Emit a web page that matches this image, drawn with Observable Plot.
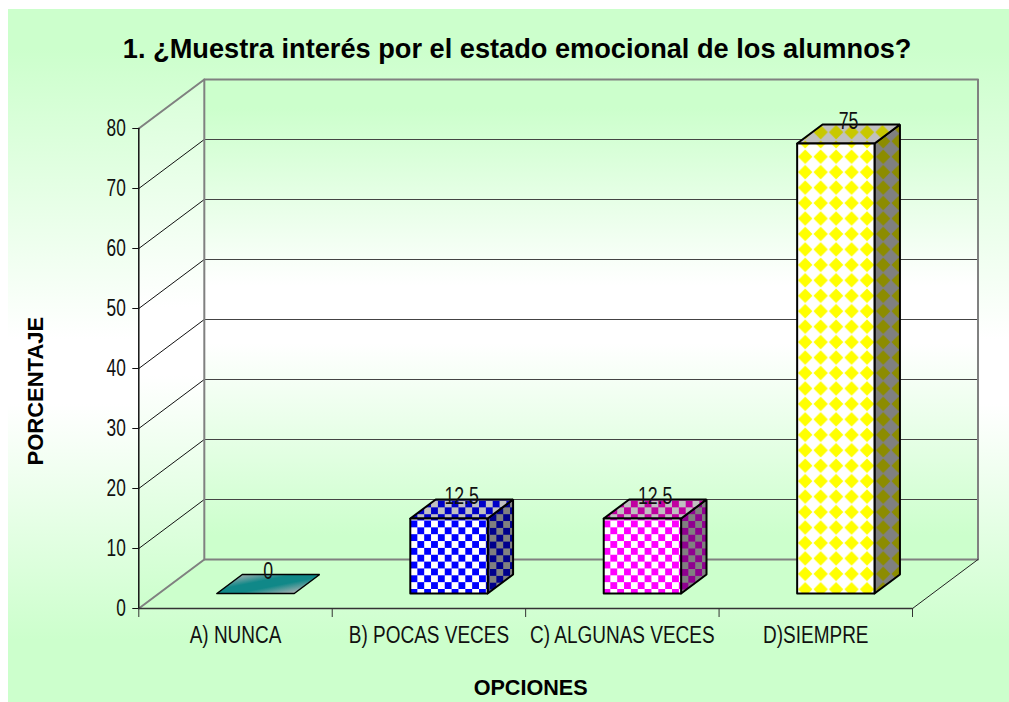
<!DOCTYPE html>
<html><head><meta charset="utf-8">
<script src="https://cdn.jsdelivr.net/npm/d3@7"></script>
<script src="https://cdn.jsdelivr.net/npm/@observablehq/plot@0.6"></script>
<style>
html,body{margin:0;padding:0;background:#fff;overflow:hidden}
#bg{position:absolute;left:8px;top:9px;width:1001px;height:693px;
background:linear-gradient(180deg,#ccffcc 0,#ccffcc 40px,#ffffff 330px,#ffffff 395px,#ccffcc 631px)}
#chart{position:absolute;left:0;top:0}
</style></head><body>
<div id="bg"></div><div id="chart"></div>
<script>
const title = "1. ¿Muestra interés por el estado emocional de los alumnos?";
const xTitle = "OPCIONES";
const yTitle = "PORCENTAJE";
const categories = ["A) NUNCA","B) POCAS VECES","C) ALGUNAS VECES","D)SIEMPRE"];
const values = [0,12.5,12.5,75];
const yTicks = [0,10,20,30,40,50,60,70,80];
const palettes = ["teal","blue","magenta","yellow"];

// Oblique 3D projection expressed in data units
const depthX = 0.3387, depthY = 8.167;
const barW = 0.40, z0 = 0.306, z1 = 0.694;
const P = (u,v,z=0)=>({x:u+z*depthX,y:v+z*depthY});
const poly = (pts,opt)=>Plot.line([...pts,pts[0]],{x:"x",y:"y",strokeLinejoin:"miter",...opt});
const WALL="url(#wall)";

const marks=[];
// walls and floor
marks.push(poly([P(0,80),P(0,80,1),P(0,0,1),P(0,0)],{fill:"url(#wallL)",stroke:"none"}));
marks.push(poly([P(0,80,1),P(4,80,1),P(4,0,1),P(0,0,1)],{fill:WALL,stroke:"none"}));
marks.push(poly([P(0,0),P(0,0,1),P(4,0,1),P(4,0)],{fill:"#ccffcc",stroke:"none"}));
// gridlines
const inner=yTicks.filter(d=>d>0&&d<80);
marks.push(Plot.link(inner,{x1:()=>0,y1:d=>d,x2:()=>depthX,y2:d=>d+depthY,stroke:"#111",strokeWidth:1}));
marks.push(Plot.link(inner,{x1:()=>depthX,y1:d=>d+depthY,x2:()=>4+depthX,y2:d=>d+depthY,stroke:"#444",strokeWidth:1.2}));
// wall outline
marks.push(Plot.line([P(0,0),P(0,0,1),P(0,80,1),P(0,80)],{x:"x",y:"y",stroke:"#808080",strokeWidth:2}));
marks.push(Plot.line([P(0,80,1),P(4,80,1),P(4,0,1),P(0,0,1)],{x:"x",y:"y",stroke:"#808080",strokeWidth:2}));
marks.push(Plot.line([P(4,0,1),P(4,0)],{x:"x",y:"y",stroke:"#222",strokeWidth:1}));
// axis lines
marks.push(Plot.line([P(0,0),P(0,80)],{x:"x",y:"y",stroke:"#111",strokeWidth:1.5}));
marks.push(Plot.line([P(0,0),P(4,0)],{x:"x",y:"y",stroke:"#333",strokeWidth:1.5}));
// bars
values.forEach((v,i)=>{
  const a=i+.5-barW/2,b=i+.5+barW/2,p=palettes[i];
  const S={stroke:"#000",strokeWidth:2};
  if(v>0) marks.push(poly([P(b,0,z0),P(b,0,z1),P(b,v,z1),P(b,v,z0)],{fill:`url(#${p}-side)`,...S}));
  marks.push(poly([P(a,v,z0),P(a,v,z1),P(b,v,z1),P(b,v,z0)],{fill:`url(#${p}-top)`,...S,strokeWidth:v>0?2:1.5}));
  if(v>0) marks.push(poly([P(a,0,z0),P(a,v,z0),P(b,v,z0),P(b,0,z0)],{fill:`url(#${p}-front)`,...S}));
});
// value labels
marks.push(Plot.text(values,{x:(d,i)=>i+.5+.5*depthX*(z0+z1),y:d=>d+.5*depthY*(z0+z1),text:d=>String(d),dy:-12,fontSize:23,fill:"#111",className:"dlabel",fontFamily:"Liberation Sans"}));
// axes
marks.push(Plot.axisY({ticks:yTicks,tickSize:6,tickPadding:7,label:null,fontSize:23,stroke:"#111",fill:"#111",className:"ytick",fontFamily:"Liberation Sans"}));
marks.push(Plot.axisX({ticks:[0,1,2,3,4],tickSize:9,tickFormat:()=>"",label:null,stroke:"#333"}));
marks.push(Plot.axisX({ticks:[.5,1.5,2.5,3.5],tickSize:0,tickPadding:18,tickFormat:d=>categories[d-.5],label:null,fontSize:23,fill:"#111",className:"xtick",fontFamily:"Liberation Sans"}));
// titles
marks.push(Plot.text([title],{frameAnchor:"top",dx:-8.5,dy:-71,fontSize:27.2,fontWeight:"bold",fill:"#000",lineAnchor:"bottom",className:"ctitle",fontFamily:"Liberation Sans"}));
marks.push(Plot.text([xTitle],{frameAnchor:"bottom",dx:5,dy:86,fontSize:21.6,fontWeight:"bold",fill:"#000",lineAnchor:"bottom",fontFamily:"Liberation Sans"}));
marks.push(Plot.text([yTitle],{frameAnchor:"left",dx:-103,dy:97,rotate:-90,fontSize:22,fontWeight:"bold",fill:"#000",fontFamily:"Liberation Sans"}));

const plot=Plot.plot({width:1009,height:702,marginLeft:138.3,marginRight:97,marginTop:128,marginBottom:94,
  x:{type:"linear",domain:[0,4]},y:{domain:[0,80]},style:{background:"transparent"},marks});
document.getElementById("chart").append(plot);

// pattern and gradient paints
const svg=d3.select(plot);
const defs=svg.insert("defs",":first-child");
function grad(id,stops,attrs){
  const g=defs.append("linearGradient").attr("id",id).attr("gradientUnits","userSpaceOnUse");
  Object.entries(attrs).forEach(([k,v])=>g.attr(k,v));
  stops.forEach(([o,c])=>g.append("stop").attr("offset",o).attr("stop-color",c));
}
grad("wall",[[0,"#ccffcc"],[.06,"#ccffcc"],[.43,"#ffffff"],[.55,"#ffffff"],[.95,"#ccffcc"],[1,"#ccffcc"]],{x1:0,y1:79,x2:0,y2:559});
grad("wallL",[[0,"#d8ffd8"],[.43,"#ffffff"],[.56,"#ffffff"],[1,"#ccffcc"]],{x1:0,y1:79,x2:0,y2:608});
grad("teal-top",[[0,"#b4b4b4"],[.38,"#108888"],[.62,"#108888"],[1,"#b4b4b4"]],{x1:264,y1:568,x2:270,y2:598});
function checker(id,a,b,x0,y0,s=6.85){
  const p=defs.append("pattern").attr("id",id).attr("patternUnits","userSpaceOnUse")
    .attr("width",2*s).attr("height",2*s).attr("x",x0).attr("y",y0);
  p.append("rect").attr("width",2*s).attr("height",2*s).attr("fill",b);
  p.append("rect").attr("width",s).attr("height",s).attr("fill",a);
  p.append("rect").attr("x",s).attr("y",s).attr("width",s).attr("height",s).attr("fill",a);
}
function diamond(id,a,b,x0,y0,s=15.45,r=7.2){
  const p=defs.append("pattern").attr("id",id).attr("patternUnits","userSpaceOnUse")
    .attr("width",s).attr("height",s).attr("x",x0).attr("y",y0);
  p.append("rect").attr("width",s).attr("height",s).attr("fill",b);
  p.append("polygon").attr("points",`${s/2},${s/2-r} ${s/2+r},${s/2} ${s/2},${s/2+r} ${s/2-r},${s/2}`).attr("fill",a);
}
checker("blue-front","#0000ff","#ffffff",410,520);
checker("blue-top","#0000c8","#c0c0c0",410,500);
checker("blue-side","#00008c","#808080",489,500);
checker("magenta-front","#ff00ff","#ffffff",603,520);
checker("magenta-top","#c000a0","#c0c0c0",603,500);
checker("magenta-side","#900090","#808080",681,500);
diamond("yellow-front","#ffff00","#ffffff",797,148.5);
diamond("yellow-top","#c8c800","#c0c0c0",797,124);
diamond("yellow-side","#8c8c00","#808080",875,148.5);

// condense the tick and value labels the way the reference's font is condensed
function squeeze(sel,ratio){
  svg.selectAll(sel).each(function(){
    const n=this.getComputedTextLength();
    d3.select(this).attr("textLength",n*ratio).attr("lengthAdjust","spacingAndGlyphs");
  });
}
squeeze(".ytick text",.75);
squeeze(".dlabel text",.77);
squeeze(".xtick text",.825);
</script></body></html>
